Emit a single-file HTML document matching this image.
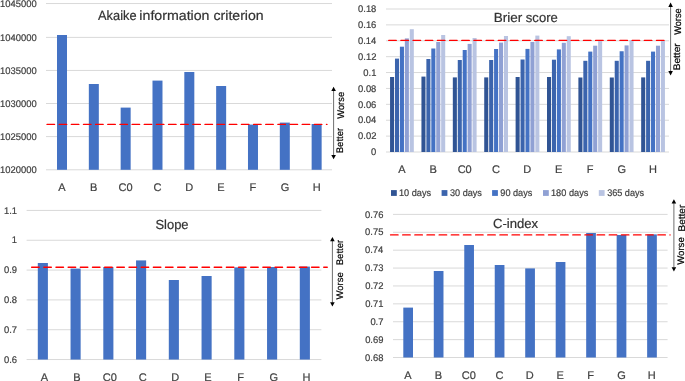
<!DOCTYPE html>
<html><head><meta charset="utf-8"><style>
html,body{margin:0;padding:0;background:#fff;}
body{width:685px;height:381px;overflow:hidden;}
svg{display:block;font-family:"Liberation Sans", sans-serif;will-change:transform;text-rendering:geometricPrecision;}
</style></head><body>
<svg width="685" height="381" viewBox="0 0 685 381">
<rect width="685" height="381" fill="#fff"/>
<line x1="46.00" y1="3.54" x2="332.00" y2="3.54" stroke="#D9D9D9" stroke-width="1"/>
<text x="0.04" y="6.74" font-size="9.6" fill="#404040" stroke="#404040" stroke-width="0.2" textLength="36.63" lengthAdjust="spacingAndGlyphs">1045000</text>
<line x1="46.00" y1="37.40" x2="332.00" y2="37.40" stroke="#D9D9D9" stroke-width="1"/>
<text x="0.04" y="40.60" font-size="9.6" fill="#404040" stroke="#404040" stroke-width="0.2" textLength="36.63" lengthAdjust="spacingAndGlyphs">1040000</text>
<line x1="46.00" y1="70.45" x2="332.00" y2="70.45" stroke="#D9D9D9" stroke-width="1"/>
<text x="0.04" y="73.65" font-size="9.6" fill="#404040" stroke="#404040" stroke-width="0.2" textLength="36.63" lengthAdjust="spacingAndGlyphs">1035000</text>
<line x1="46.00" y1="103.50" x2="332.00" y2="103.50" stroke="#D9D9D9" stroke-width="1"/>
<text x="0.04" y="106.70" font-size="9.6" fill="#404040" stroke="#404040" stroke-width="0.2" textLength="36.63" lengthAdjust="spacingAndGlyphs">1030000</text>
<line x1="46.00" y1="136.60" x2="332.00" y2="136.60" stroke="#D9D9D9" stroke-width="1"/>
<text x="0.04" y="139.80" font-size="9.6" fill="#404040" stroke="#404040" stroke-width="0.2" textLength="36.63" lengthAdjust="spacingAndGlyphs">1025000</text>
<line x1="46.00" y1="169.80" x2="332.00" y2="169.80" stroke="#D9D9D9" stroke-width="1"/>
<text x="0.04" y="173.00" font-size="9.6" fill="#404040" stroke="#404040" stroke-width="0.2" textLength="36.63" lengthAdjust="spacingAndGlyphs">1020000</text>
<rect x="57.00" y="35.00" width="10.00" height="134.80" fill="#4472C4"/>
<text x="58.33" y="190.80" font-size="11.0" fill="#404040" stroke="#404040" stroke-width="0.2">A</text>
<rect x="88.83" y="84.00" width="10.00" height="85.80" fill="#4472C4"/>
<text x="90.00" y="190.80" font-size="11.0" fill="#404040" stroke="#404040" stroke-width="0.2">B</text>
<rect x="120.66" y="107.60" width="10.00" height="62.20" fill="#4472C4"/>
<text x="118.56" y="190.80" font-size="11.0" fill="#404040" stroke="#404040" stroke-width="0.2">C0</text>
<rect x="152.49" y="80.60" width="10.00" height="89.20" fill="#4472C4"/>
<text x="153.45" y="190.80" font-size="11.0" fill="#404040" stroke="#404040" stroke-width="0.2">C</text>
<rect x="184.32" y="72.00" width="10.00" height="97.80" fill="#4472C4"/>
<text x="185.16" y="190.80" font-size="11.0" fill="#404040" stroke="#404040" stroke-width="0.2">D</text>
<rect x="216.15" y="86.00" width="10.00" height="83.80" fill="#4472C4"/>
<text x="217.27" y="190.80" font-size="11.0" fill="#404040" stroke="#404040" stroke-width="0.2">E</text>
<rect x="247.98" y="124.60" width="10.00" height="45.20" fill="#4472C4"/>
<text x="249.39" y="190.80" font-size="11.0" fill="#404040" stroke="#404040" stroke-width="0.2">F</text>
<rect x="279.81" y="122.60" width="10.00" height="47.20" fill="#4472C4"/>
<text x="280.67" y="190.80" font-size="11.0" fill="#404040" stroke="#404040" stroke-width="0.2">G</text>
<rect x="311.64" y="124.00" width="10.00" height="45.80" fill="#4472C4"/>
<text x="312.67" y="190.80" font-size="11.0" fill="#404040" stroke="#404040" stroke-width="0.2">H</text>
<text x="98.07" y="20.20" font-size="13.399999999999999" fill="#333333" stroke="#333333" stroke-width="0.2" textLength="38.49" lengthAdjust="spacingAndGlyphs">Akaike</text>
<text x="139.35" y="20.20" font-size="13.399999999999999" fill="#333333" stroke="#333333" stroke-width="0.2" textLength="70.17" lengthAdjust="spacingAndGlyphs">information</text>
<text x="213.50" y="20.20" font-size="13.399999999999999" fill="#333333" stroke="#333333" stroke-width="0.2" textLength="50.22" lengthAdjust="spacingAndGlyphs">criterion</text>
<line x1="47.05" y1="124.40" x2="326.95" y2="124.40" stroke="#FF0000" stroke-width="1.4" stroke-dasharray="7.5 4.65" stroke-linecap="round"/>
<line x1="333.60" y1="90.60" x2="333.60" y2="155.40" stroke="#555" stroke-width="0.85"/>
<path d="M333.60 86.80 L335.90 91.10 L331.30 91.10 Z" fill="#000"/>
<path d="M333.60 159.20 L335.90 154.90 L331.30 154.90 Z" fill="#000"/>
<text transform="translate(343.90,118.74) rotate(-90)" x="0" y="0" font-size="9.6" fill="#000" stroke="#000" stroke-width="0.2" textLength="26.85" lengthAdjust="spacingAndGlyphs">Worse</text>
<text transform="translate(343.00,153.18) rotate(-90)" x="0" y="0" font-size="9.6" fill="#000" stroke="#000" stroke-width="0.2" textLength="25.23" lengthAdjust="spacingAndGlyphs">Better</text>
<line x1="386.00" y1="9.00" x2="669.00" y2="9.00" stroke="#D9D9D9" stroke-width="1"/>
<text x="358.05" y="12.20" font-size="9.6" fill="#404040" stroke="#404040" stroke-width="0.2" textLength="18.31" lengthAdjust="spacingAndGlyphs">0.18</text>
<line x1="386.00" y1="24.89" x2="669.00" y2="24.89" stroke="#D9D9D9" stroke-width="1"/>
<text x="358.05" y="28.09" font-size="9.6" fill="#404040" stroke="#404040" stroke-width="0.2" textLength="18.31" lengthAdjust="spacingAndGlyphs">0.16</text>
<line x1="386.00" y1="40.78" x2="669.00" y2="40.78" stroke="#D9D9D9" stroke-width="1"/>
<text x="357.91" y="43.98" font-size="9.6" fill="#404040" stroke="#404040" stroke-width="0.2" textLength="18.31" lengthAdjust="spacingAndGlyphs">0.14</text>
<line x1="386.00" y1="56.67" x2="669.00" y2="56.67" stroke="#D9D9D9" stroke-width="1"/>
<text x="358.11" y="59.87" font-size="9.6" fill="#404040" stroke="#404040" stroke-width="0.2" textLength="18.31" lengthAdjust="spacingAndGlyphs">0.12</text>
<line x1="386.00" y1="72.56" x2="669.00" y2="72.56" stroke="#D9D9D9" stroke-width="1"/>
<text x="363.33" y="75.76" font-size="9.6" fill="#404040" stroke="#404040" stroke-width="0.2" textLength="13.08" lengthAdjust="spacingAndGlyphs">0.1</text>
<line x1="386.00" y1="88.44" x2="669.00" y2="88.44" stroke="#D9D9D9" stroke-width="1"/>
<text x="358.05" y="91.64" font-size="9.6" fill="#404040" stroke="#404040" stroke-width="0.2" textLength="18.31" lengthAdjust="spacingAndGlyphs">0.08</text>
<line x1="386.00" y1="104.33" x2="669.00" y2="104.33" stroke="#D9D9D9" stroke-width="1"/>
<text x="358.05" y="107.53" font-size="9.6" fill="#404040" stroke="#404040" stroke-width="0.2" textLength="18.31" lengthAdjust="spacingAndGlyphs">0.06</text>
<line x1="386.00" y1="120.22" x2="669.00" y2="120.22" stroke="#D9D9D9" stroke-width="1"/>
<text x="357.91" y="123.42" font-size="9.6" fill="#404040" stroke="#404040" stroke-width="0.2" textLength="18.31" lengthAdjust="spacingAndGlyphs">0.04</text>
<line x1="386.00" y1="136.11" x2="669.00" y2="136.11" stroke="#D9D9D9" stroke-width="1"/>
<text x="358.11" y="139.31" font-size="9.6" fill="#404040" stroke="#404040" stroke-width="0.2" textLength="18.31" lengthAdjust="spacingAndGlyphs">0.02</text>
<line x1="386.00" y1="152.00" x2="669.00" y2="152.00" stroke="#D9D9D9" stroke-width="1"/>
<text x="371.09" y="155.20" font-size="9.6" fill="#404040" stroke="#404040" stroke-width="0.2" textLength="5.23" lengthAdjust="spacingAndGlyphs">0</text>
<rect x="390.05" y="77.00" width="4.05" height="75.00" fill="#305494"/>
<rect x="394.98" y="58.60" width="4.05" height="93.40" fill="#3B64AD"/>
<rect x="399.91" y="46.70" width="4.05" height="105.30" fill="#4472C4"/>
<rect x="404.84" y="38.40" width="4.05" height="113.60" fill="#90A1D4"/>
<rect x="409.77" y="29.20" width="4.05" height="122.80" fill="#B9C4E2"/>
<text x="398.28" y="172.80" font-size="11.0" fill="#404040" stroke="#404040" stroke-width="0.2">A</text>
<rect x="421.44" y="76.60" width="4.05" height="75.40" fill="#305494"/>
<rect x="426.37" y="59.00" width="4.05" height="93.00" fill="#3B64AD"/>
<rect x="431.30" y="48.50" width="4.05" height="103.50" fill="#4472C4"/>
<rect x="436.23" y="42.00" width="4.05" height="110.00" fill="#90A1D4"/>
<rect x="441.16" y="35.00" width="4.05" height="117.00" fill="#B9C4E2"/>
<text x="429.51" y="172.80" font-size="11.0" fill="#404040" stroke="#404040" stroke-width="0.2">B</text>
<rect x="452.83" y="77.40" width="4.05" height="74.60" fill="#305494"/>
<rect x="457.76" y="60.00" width="4.05" height="92.00" fill="#3B64AD"/>
<rect x="462.69" y="50.00" width="4.05" height="102.00" fill="#4472C4"/>
<rect x="467.62" y="43.90" width="4.05" height="108.10" fill="#90A1D4"/>
<rect x="472.55" y="38.00" width="4.05" height="114.00" fill="#B9C4E2"/>
<text x="457.63" y="172.80" font-size="11.0" fill="#404040" stroke="#404040" stroke-width="0.2">C0</text>
<rect x="484.22" y="77.40" width="4.05" height="74.60" fill="#305494"/>
<rect x="489.15" y="60.00" width="4.05" height="92.00" fill="#3B64AD"/>
<rect x="494.08" y="49.00" width="4.05" height="103.00" fill="#4472C4"/>
<rect x="499.01" y="42.60" width="4.05" height="109.40" fill="#90A1D4"/>
<rect x="503.94" y="36.00" width="4.05" height="116.00" fill="#B9C4E2"/>
<text x="492.08" y="172.80" font-size="11.0" fill="#404040" stroke="#404040" stroke-width="0.2">C</text>
<rect x="515.61" y="77.00" width="4.05" height="75.00" fill="#305494"/>
<rect x="520.54" y="59.50" width="4.05" height="92.50" fill="#3B64AD"/>
<rect x="525.47" y="48.90" width="4.05" height="103.10" fill="#4472C4"/>
<rect x="530.40" y="42.00" width="4.05" height="110.00" fill="#90A1D4"/>
<rect x="535.33" y="35.60" width="4.05" height="116.40" fill="#B9C4E2"/>
<text x="523.35" y="172.80" font-size="11.0" fill="#404040" stroke="#404040" stroke-width="0.2">D</text>
<rect x="547.00" y="77.00" width="4.05" height="75.00" fill="#305494"/>
<rect x="551.93" y="59.70" width="4.05" height="92.30" fill="#3B64AD"/>
<rect x="556.86" y="49.40" width="4.05" height="102.60" fill="#4472C4"/>
<rect x="561.79" y="42.80" width="4.05" height="109.20" fill="#90A1D4"/>
<rect x="566.72" y="36.20" width="4.05" height="115.80" fill="#B9C4E2"/>
<text x="555.02" y="172.80" font-size="11.0" fill="#404040" stroke="#404040" stroke-width="0.2">E</text>
<rect x="578.39" y="77.50" width="4.05" height="74.50" fill="#305494"/>
<rect x="583.32" y="60.80" width="4.05" height="91.20" fill="#3B64AD"/>
<rect x="588.25" y="51.60" width="4.05" height="100.40" fill="#4472C4"/>
<rect x="593.18" y="45.70" width="4.05" height="106.30" fill="#90A1D4"/>
<rect x="598.11" y="41.10" width="4.05" height="110.90" fill="#B9C4E2"/>
<text x="586.70" y="172.80" font-size="11.0" fill="#404040" stroke="#404040" stroke-width="0.2">F</text>
<rect x="609.78" y="77.50" width="4.05" height="74.50" fill="#305494"/>
<rect x="614.71" y="60.80" width="4.05" height="91.20" fill="#3B64AD"/>
<rect x="619.64" y="51.25" width="4.05" height="100.75" fill="#4472C4"/>
<rect x="624.57" y="45.40" width="4.05" height="106.60" fill="#90A1D4"/>
<rect x="629.50" y="40.20" width="4.05" height="111.80" fill="#B9C4E2"/>
<text x="617.54" y="172.80" font-size="11.0" fill="#404040" stroke="#404040" stroke-width="0.2">G</text>
<rect x="641.17" y="77.40" width="4.05" height="74.60" fill="#305494"/>
<rect x="646.10" y="60.80" width="4.05" height="91.20" fill="#3B64AD"/>
<rect x="651.03" y="51.60" width="4.05" height="100.40" fill="#4472C4"/>
<rect x="655.96" y="45.70" width="4.05" height="106.30" fill="#90A1D4"/>
<rect x="660.89" y="40.80" width="4.05" height="111.20" fill="#B9C4E2"/>
<text x="649.10" y="172.80" font-size="11.0" fill="#404040" stroke="#404040" stroke-width="0.2">H</text>
<line x1="388.75" y1="40.40" x2="668.45" y2="40.40" stroke="#FF0000" stroke-width="1.4" stroke-dasharray="7.5 4.67" stroke-linecap="round"/>
<text x="493.69" y="21.80" font-size="13.2" fill="#333333" stroke="#333333" stroke-width="0.2" textLength="28.53" lengthAdjust="spacingAndGlyphs">Brier</text>
<text x="525.84" y="21.80" font-size="13.2" fill="#333333" stroke="#333333" stroke-width="0.2" textLength="31.94" lengthAdjust="spacingAndGlyphs">score</text>
<rect x="391.00" y="190.10" width="5.80" height="5.80" fill="#305494"/>
<text x="399.00" y="196.20" font-size="9.6" fill="#404040" stroke="#404040" stroke-width="0.2" textLength="32.13" lengthAdjust="spacingAndGlyphs">10 days</text>
<rect x="441.60" y="190.10" width="5.80" height="5.80" fill="#3B64AD"/>
<text x="449.95" y="196.20" font-size="9.6" fill="#404040" stroke="#404040" stroke-width="0.2" textLength="31.98" lengthAdjust="spacingAndGlyphs">30 days</text>
<rect x="492.10" y="190.10" width="5.80" height="5.80" fill="#4472C4"/>
<text x="500.37" y="196.20" font-size="9.6" fill="#404040" stroke="#404040" stroke-width="0.2" textLength="31.96" lengthAdjust="spacingAndGlyphs">90 days</text>
<rect x="543.00" y="190.10" width="5.80" height="5.80" fill="#90A1D4"/>
<text x="551.00" y="196.20" font-size="9.6" fill="#404040" stroke="#404040" stroke-width="0.2" textLength="37.33" lengthAdjust="spacingAndGlyphs">180 days</text>
<rect x="598.80" y="190.10" width="5.80" height="5.80" fill="#B9C4E2"/>
<text x="607.15" y="196.20" font-size="9.6" fill="#404040" stroke="#404040" stroke-width="0.2" textLength="36.98" lengthAdjust="spacingAndGlyphs">365 days</text>
<line x1="670.60" y1="6.40" x2="670.60" y2="71.60" stroke="#555" stroke-width="0.85"/>
<path d="M670.60 2.60 L672.90 6.90 L668.30 6.90 Z" fill="#000"/>
<path d="M670.60 75.40 L672.90 71.10 L668.30 71.10 Z" fill="#000"/>
<text transform="translate(680.70,34.84) rotate(-90)" x="0" y="0" font-size="9.6" fill="#000" stroke="#000" stroke-width="0.2" textLength="26.55" lengthAdjust="spacingAndGlyphs">Worse</text>
<text transform="translate(680.20,70.33) rotate(-90)" x="0" y="0" font-size="9.6" fill="#000" stroke="#000" stroke-width="0.2" textLength="27.00" lengthAdjust="spacingAndGlyphs">Better</text>
<line x1="26.60" y1="210.43" x2="321.40" y2="210.43" stroke="#D9D9D9" stroke-width="1"/>
<text x="3.98" y="213.63" font-size="9.6" fill="#404040" stroke="#404040" stroke-width="0.2" textLength="13.08" lengthAdjust="spacingAndGlyphs">1.1</text>
<line x1="26.60" y1="240.26" x2="321.40" y2="240.26" stroke="#D9D9D9" stroke-width="1"/>
<text x="11.83" y="243.46" font-size="9.6" fill="#404040" stroke="#404040" stroke-width="0.2" textLength="5.23" lengthAdjust="spacingAndGlyphs">1</text>
<line x1="26.60" y1="270.08" x2="321.40" y2="270.08" stroke="#D9D9D9" stroke-width="1"/>
<text x="3.97" y="273.28" font-size="9.6" fill="#404040" stroke="#404040" stroke-width="0.2" textLength="13.08" lengthAdjust="spacingAndGlyphs">0.9</text>
<line x1="26.60" y1="299.91" x2="321.40" y2="299.91" stroke="#D9D9D9" stroke-width="1"/>
<text x="3.93" y="303.11" font-size="9.6" fill="#404040" stroke="#404040" stroke-width="0.2" textLength="13.08" lengthAdjust="spacingAndGlyphs">0.8</text>
<line x1="26.60" y1="329.73" x2="321.40" y2="329.73" stroke="#D9D9D9" stroke-width="1"/>
<text x="3.99" y="332.93" font-size="9.6" fill="#404040" stroke="#404040" stroke-width="0.2" textLength="13.08" lengthAdjust="spacingAndGlyphs">0.7</text>
<line x1="26.60" y1="359.56" x2="321.40" y2="359.56" stroke="#D9D9D9" stroke-width="1"/>
<text x="3.94" y="362.76" font-size="9.6" fill="#404040" stroke="#404040" stroke-width="0.2" textLength="13.08" lengthAdjust="spacingAndGlyphs">0.6</text>
<rect x="37.80" y="263.00" width="10.10" height="96.56" fill="#4472C4"/>
<text x="40.78" y="380.60" font-size="11.0" fill="#404040" stroke="#404040" stroke-width="0.2">A</text>
<rect x="70.55" y="268.60" width="10.10" height="90.96" fill="#4472C4"/>
<text x="73.37" y="380.60" font-size="11.0" fill="#404040" stroke="#404040" stroke-width="0.2">B</text>
<rect x="103.30" y="267.00" width="10.10" height="92.56" fill="#4472C4"/>
<text x="102.85" y="380.60" font-size="11.0" fill="#404040" stroke="#404040" stroke-width="0.2">C0</text>
<rect x="136.05" y="260.40" width="10.10" height="99.16" fill="#4472C4"/>
<text x="138.66" y="380.60" font-size="11.0" fill="#404040" stroke="#404040" stroke-width="0.2">C</text>
<rect x="168.80" y="280.00" width="10.10" height="79.56" fill="#4472C4"/>
<text x="171.29" y="380.60" font-size="11.0" fill="#404040" stroke="#404040" stroke-width="0.2">D</text>
<rect x="201.55" y="276.00" width="10.10" height="83.56" fill="#4472C4"/>
<text x="204.32" y="380.60" font-size="11.0" fill="#404040" stroke="#404040" stroke-width="0.2">E</text>
<rect x="234.30" y="267.40" width="10.10" height="92.16" fill="#4472C4"/>
<text x="237.36" y="380.60" font-size="11.0" fill="#404040" stroke="#404040" stroke-width="0.2">F</text>
<rect x="267.05" y="267.00" width="10.10" height="92.56" fill="#4472C4"/>
<text x="269.56" y="380.60" font-size="11.0" fill="#404040" stroke="#404040" stroke-width="0.2">G</text>
<rect x="299.80" y="266.60" width="10.10" height="92.96" fill="#4472C4"/>
<text x="302.48" y="380.60" font-size="11.0" fill="#404040" stroke="#404040" stroke-width="0.2">H</text>
<text x="155.41" y="229.40" font-size="13.2" fill="#333333" stroke="#333333" stroke-width="0.2" textLength="33.17" lengthAdjust="spacingAndGlyphs">Slope</text>
<line x1="31.65" y1="267.25" x2="327.25" y2="267.25" stroke="#FF0000" stroke-width="1.4" stroke-dasharray="7.5 4.67" stroke-linecap="round"/>
<line x1="332.40" y1="240.80" x2="332.40" y2="302.80" stroke="#555" stroke-width="0.85"/>
<path d="M332.40 237.00 L334.70 241.30 L330.10 241.30 Z" fill="#000"/>
<path d="M332.40 306.60 L334.70 302.30 L330.10 302.30 Z" fill="#000"/>
<text transform="translate(342.50,265.18) rotate(-90)" x="0" y="0" font-size="9.6" fill="#000" stroke="#000" stroke-width="0.2" textLength="25.23" lengthAdjust="spacingAndGlyphs">Better</text>
<text transform="translate(342.60,299.44) rotate(-90)" x="0" y="0" font-size="9.6" fill="#000" stroke="#000" stroke-width="0.2" textLength="27.16" lengthAdjust="spacingAndGlyphs">Worse</text>
<line x1="393.00" y1="214.40" x2="667.60" y2="214.40" stroke="#D9D9D9" stroke-width="1"/>
<text x="365.10" y="217.60" font-size="9.6" fill="#404040" stroke="#404040" stroke-width="0.2" textLength="18.31" lengthAdjust="spacingAndGlyphs">0.76</text>
<line x1="393.00" y1="232.29" x2="667.60" y2="232.29" stroke="#D9D9D9" stroke-width="1"/>
<text x="365.08" y="235.49" font-size="9.6" fill="#404040" stroke="#404040" stroke-width="0.2" textLength="18.31" lengthAdjust="spacingAndGlyphs">0.75</text>
<line x1="393.00" y1="250.18" x2="667.60" y2="250.18" stroke="#D9D9D9" stroke-width="1"/>
<text x="364.96" y="253.38" font-size="9.6" fill="#404040" stroke="#404040" stroke-width="0.2" textLength="18.31" lengthAdjust="spacingAndGlyphs">0.74</text>
<line x1="393.00" y1="268.07" x2="667.60" y2="268.07" stroke="#D9D9D9" stroke-width="1"/>
<text x="365.10" y="271.27" font-size="9.6" fill="#404040" stroke="#404040" stroke-width="0.2" textLength="18.31" lengthAdjust="spacingAndGlyphs">0.73</text>
<line x1="393.00" y1="285.96" x2="667.60" y2="285.96" stroke="#D9D9D9" stroke-width="1"/>
<text x="365.16" y="289.16" font-size="9.6" fill="#404040" stroke="#404040" stroke-width="0.2" textLength="18.31" lengthAdjust="spacingAndGlyphs">0.72</text>
<line x1="393.00" y1="303.85" x2="667.60" y2="303.85" stroke="#D9D9D9" stroke-width="1"/>
<text x="365.15" y="307.05" font-size="9.6" fill="#404040" stroke="#404040" stroke-width="0.2" textLength="18.31" lengthAdjust="spacingAndGlyphs">0.71</text>
<line x1="393.00" y1="321.74" x2="667.60" y2="321.74" stroke="#D9D9D9" stroke-width="1"/>
<text x="370.39" y="324.94" font-size="9.6" fill="#404040" stroke="#404040" stroke-width="0.2" textLength="13.08" lengthAdjust="spacingAndGlyphs">0.7</text>
<line x1="393.00" y1="339.63" x2="667.60" y2="339.63" stroke="#D9D9D9" stroke-width="1"/>
<text x="365.13" y="342.83" font-size="9.6" fill="#404040" stroke="#404040" stroke-width="0.2" textLength="18.31" lengthAdjust="spacingAndGlyphs">0.69</text>
<line x1="393.00" y1="357.52" x2="667.60" y2="357.52" stroke="#D9D9D9" stroke-width="1"/>
<text x="365.10" y="360.72" font-size="9.6" fill="#404040" stroke="#404040" stroke-width="0.2" textLength="18.31" lengthAdjust="spacingAndGlyphs">0.68</text>
<rect x="403.30" y="307.60" width="9.70" height="49.90" fill="#4472C4"/>
<text x="404.33" y="379.00" font-size="11.0" fill="#404040" stroke="#404040" stroke-width="0.2">A</text>
<rect x="433.78" y="271.00" width="9.70" height="86.50" fill="#4472C4"/>
<text x="434.65" y="379.00" font-size="11.0" fill="#404040" stroke="#404040" stroke-width="0.2">B</text>
<rect x="464.26" y="245.00" width="9.70" height="112.50" fill="#4472C4"/>
<text x="461.86" y="379.00" font-size="11.0" fill="#404040" stroke="#404040" stroke-width="0.2">C0</text>
<rect x="494.74" y="265.00" width="9.70" height="92.50" fill="#4472C4"/>
<text x="495.40" y="379.00" font-size="11.0" fill="#404040" stroke="#404040" stroke-width="0.2">C</text>
<rect x="525.22" y="268.40" width="9.70" height="89.10" fill="#4472C4"/>
<text x="525.76" y="379.00" font-size="11.0" fill="#404040" stroke="#404040" stroke-width="0.2">D</text>
<rect x="555.70" y="262.00" width="9.70" height="95.50" fill="#4472C4"/>
<text x="556.52" y="379.00" font-size="11.0" fill="#404040" stroke="#404040" stroke-width="0.2">E</text>
<rect x="586.18" y="233.00" width="9.70" height="124.50" fill="#4472C4"/>
<text x="587.29" y="379.00" font-size="11.0" fill="#404040" stroke="#404040" stroke-width="0.2">F</text>
<rect x="616.66" y="235.00" width="9.70" height="122.50" fill="#4472C4"/>
<text x="617.22" y="379.00" font-size="11.0" fill="#404040" stroke="#404040" stroke-width="0.2">G</text>
<rect x="647.14" y="234.40" width="9.70" height="123.10" fill="#4472C4"/>
<text x="647.87" y="379.00" font-size="11.0" fill="#404040" stroke="#404040" stroke-width="0.2">H</text>
<text x="492.93" y="227.60" font-size="13.2" fill="#333333" stroke="#333333" stroke-width="0.2" textLength="45.21" lengthAdjust="spacingAndGlyphs">C-index</text>
<line x1="390.55" y1="234.90" x2="670.05" y2="234.90" stroke="#FF0000" stroke-width="1.4" stroke-dasharray="7.5 4.65" stroke-linecap="round"/>
<line x1="673.90" y1="203.00" x2="673.90" y2="267.70" stroke="#555" stroke-width="0.85"/>
<path d="M673.90 199.20 L676.20 203.50 L671.60 203.50 Z" fill="#000"/>
<path d="M673.90 271.50 L676.20 267.20 L671.60 267.20 Z" fill="#000"/>
<text transform="translate(685.10,231.42) rotate(-90)" x="0" y="0" font-size="9.6" fill="#000" stroke="#000" stroke-width="0.2" textLength="26.69" lengthAdjust="spacingAndGlyphs">Better</text>
<text transform="translate(683.80,264.84) rotate(-90)" x="0" y="0" font-size="9.6" fill="#000" stroke="#000" stroke-width="0.2" textLength="27.57" lengthAdjust="spacingAndGlyphs">Worse</text>
</svg></body></html>
